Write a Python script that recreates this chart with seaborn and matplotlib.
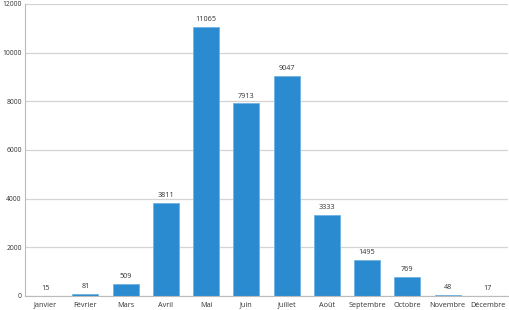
import matplotlib
matplotlib.use("Agg")
import matplotlib.pyplot as plt
import seaborn as sns
import pandas as pd
import numpy as np

months = ["Janvier", "Février", "Mars", "Avril", "Mai", "Juin", "Juillet",
          "Août", "Septembre", "Octobre", "Novembre", "Décembre"]
values = [15, 81, 509, 3811, 11065, 7913, 9047, 3333, 1495, 769, 48, 17]
yticks = [0, 2000, 4000, 6000, 8000, 10000, 12000]

sns.set_theme(style="white")
plt.rcParams['font.family'] = ['Open Sans', 'DejaVu Sans']

df = pd.DataFrame({"mois": months, "valeur": values})

fig = plt.figure(figsize=(5.1, 3.1), dpi=100)
ax = fig.add_axes([25/510, 14/310, 483/510, 292/310])

sns.barplot(data=df, x="mois", y="valeur", ax=ax, color="#2b8bd0",
            saturation=1, width=0.64, edgecolor="#6fb3e3", linewidth=0.6)

ax.set_ylim(0, 12000)
ax.set_xlim(-0.5, len(months) - 0.5)
ax.set_yticks(yticks)
ax.set_yticklabels([str(v) for v in yticks], fontsize=4.9, color="#333333")
ax.yaxis.grid(True, color="#d4d4d4", linewidth=0.9)
ax.set_axisbelow(True)
ax.set_xlabel("")
ax.set_ylabel("")
ax.tick_params(axis="x", labelsize=5.2, colors="#333333", length=0, pad=4)
ax.tick_params(axis="y", length=1.5, width=0.6, color="#aaaaaa", pad=0.8)

# minor ticks between categories
ax.set_xticks(np.arange(-0.5, len(months) + 0.5, 1), minor=True)
ax.tick_params(axis="x", which="minor", length=3, width=0.6, color="#aaaaaa", direction="out")

for s in ["top", "right"]:
    ax.spines[s].set_visible(False)
ax.spines["left"].set_color("#bbbbbb")
ax.spines["bottom"].set_color("#bbbbbb")
ax.spines["left"].set_linewidth(0.8)
ax.spines["bottom"].set_linewidth(0.8)

for i, v in enumerate(values):
    ax.annotate(str(v), (i, v), xytext=(0, 2.8), textcoords="offset points",
                ha="center", va="bottom", fontsize=5.2, color="#333333")

fig.savefig("out.png", dpi=100)
